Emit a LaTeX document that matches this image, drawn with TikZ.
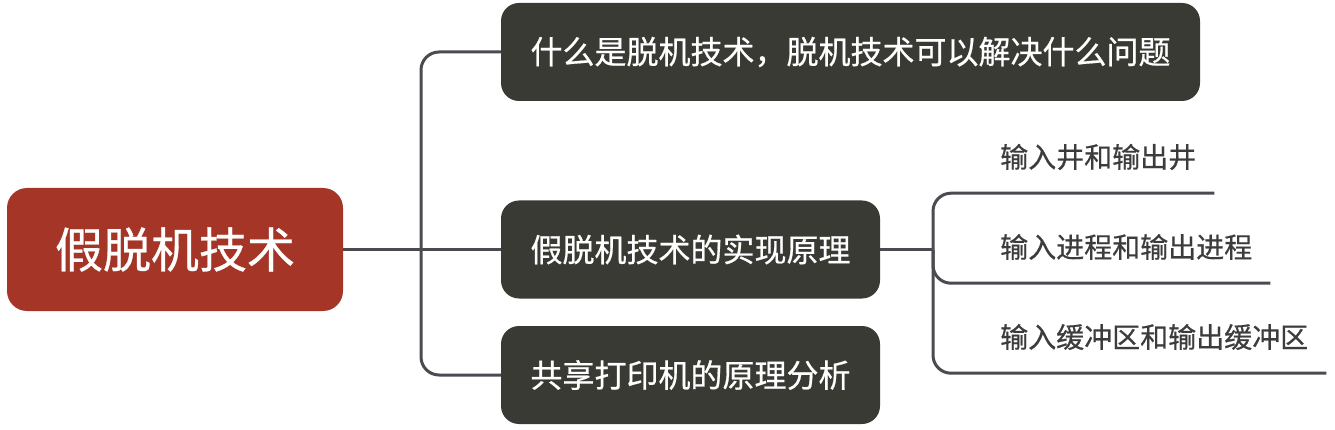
\documentclass[tikz,border=0pt]{standalone}
\usepackage{fontspec}
\newfontfamily\cjk[FakeBold=0.6]{Noto Sans CJK SC}
\usetikzlibrary{positioning}
\definecolor{rootred}{HTML}{A53627}
\definecolor{boxdark}{HTML}{393A34}
\definecolor{linkgray}{HTML}{4A4A50}
\definecolor{leafgray}{HTML}{3C3C3C}

\begin{document}
\begin{tikzpicture}[x=1pt,y=-1pt,
  root/.style={fill=rootred,text=white,rounded corners=20pt,inner sep=0pt,
    minimum width=336pt,minimum height=123pt,font=\cjk\fontsize{48}{54}\selectfont},
  topic/.style={fill=boxdark,text=white,rounded corners=18pt,inner sep=0pt,
    minimum height=98pt,font=\cjk\fontsize{32}{38}\selectfont},
  leaf/.style={text=leafgray,anchor=west,inner xsep=18pt,inner ysep=0pt,
    minimum height=72pt,font=\cjk\fontsize{28}{32}\selectfont},
  link/.style={draw=linkgray,line width=3pt,rounded corners=18pt}]
\useasboundingbox (0,0) rectangle (1335,430);

% root and topics
\node[root] (jia) at (175,249.5) {假脱机技术};
\node[topic,minimum width=699pt] (what) at (850.5,52) {什么是脱机技术，脱机技术可以解决什么问题};
\node[topic,minimum width=379pt] (how) at (690.5,249.5) {假脱机技术的实现原理};
\node[topic,minimum width=379pt] (share) at (690.5,375) {共享打印机的原理分析};

% leaves
\node[leaf] (well) at (982,157) {输入井和输出井};
\node[leaf] (proc) at (982,247) {输入进程和输出进程};
\node[leaf] (buf) at (982,337) {输入缓冲区和输出缓冲区};

% connectors
\coordinate (trunk) at (421,249.5);
\coordinate (fork) at (933,249.5);
\draw[link] (jia.east) -- (how.west);
\draw[link] (what.west) -| (trunk) |- (share.west);
\draw[link] (how.east) -- (fork);
\draw[link] (fork) |- (well.south east);
\draw[link] (fork) |- (proc.south east);
\draw[link] (fork) |- (buf.south east);
\end{tikzpicture}
\end{document}
